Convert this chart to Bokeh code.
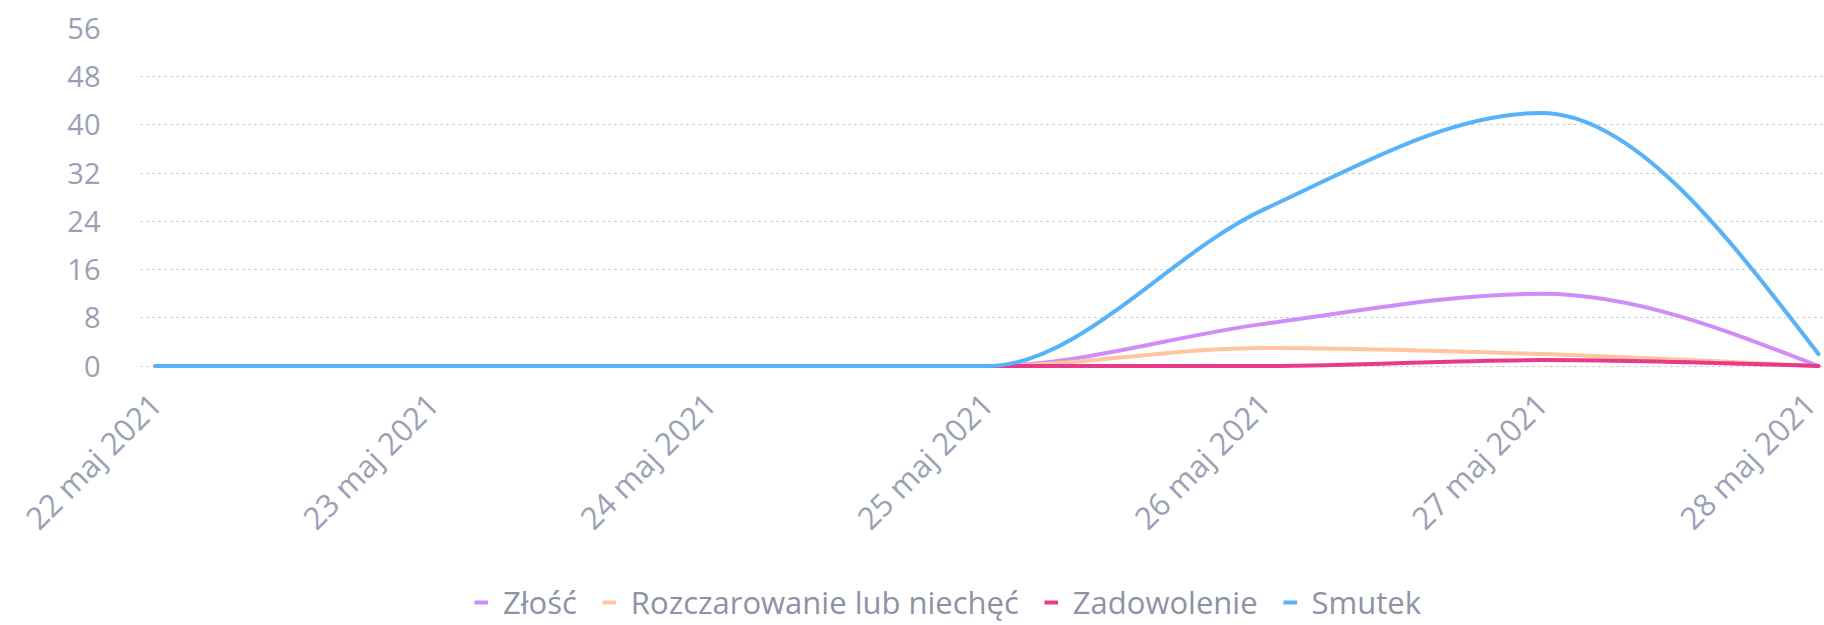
from math import pi
import numpy as np
from bokeh.plotting import figure
from bokeh.layouts import column
from bokeh.models import Range1d, FixedTicker, Legend, LegendItem, ColumnDataSource
from bokeh.embed import file_html
from bokeh.resources import INLINE

# ---- data ----
dates = ["22 maj 2021", "23 maj 2021", "24 maj 2021", "25 maj 2021",
         "26 maj 2021", "27 maj 2021", "28 maj 2021"]
zlosc = [0, 0, 0, 0, 7, 12, 0]
rozczarowanie = [0, 0, 0, 0, 3, 2, 0]
zadowolenie = [0, 0, 0, 0, 0, 1, 0]
smutek = [0, 0, 0, 0, 26, 42, 2]
series_names = ["Złość", "Rozczarowanie lub niechęć", "Zadowolenie", "Smutek"]
y_ticks = [0, 8, 16, 24, 32, 40, 48, 56]

colors = ["#cf8cfa", "#ffc4a0", "#e8398a", "#55b3fd"]
FONT = "Open Sans"
TICK_COLOR = "#9aa0b6"


def monotone_bezier(xs, ys):
    """Control points of a monotone cubic (d3 curveMonotoneX) through the data points."""
    xs = np.asarray(xs, float)
    ys = np.asarray(ys, float)
    n = len(xs)
    h = np.diff(xs)
    s = np.diff(ys) / h
    t = np.zeros(n)
    for i in range(1, n - 1):
        p = (s[i - 1] * h[i] + s[i] * h[i - 1]) / (h[i - 1] + h[i])
        sg = (-1 if s[i - 1] < 0 else 1) + (-1 if s[i] < 0 else 1)
        t[i] = sg * min(abs(s[i - 1]), abs(s[i]), 0.5 * abs(p))
    t[0] = (3 * s[0] - t[1]) / 2
    t[-1] = (3 * s[-1] - t[-2]) / 2
    return dict(
        x0=xs[:-1], y0=ys[:-1], x1=xs[1:], y1=ys[1:],
        cx0=xs[:-1] + h / 3, cy0=ys[:-1] + t[:-1] * h / 3,
        cx1=xs[1:] - h / 3, cy1=ys[1:] - t[1:] * h / 3,
    )


x_idx = list(range(len(dates)))
all_series = [zlosc, rozczarowanie, zadowolenie, smutek]

# ---- main chart ----
p = figure(width=1824, height=563, output_backend="svg", toolbar_location=None,
           x_range=Range1d(-0.054, 6.022), y_range=Range1d(-0.4, 56),
           min_border_left=140, min_border_right=0, min_border_top=28,
           min_border_bottom=195)
p.outline_line_color = None
p.background_fill_color = "white"

for name, vals, col in zip(series_names, all_series, colors):
    src = ColumnDataSource(monotone_bezier(x_idx, vals))
    p.bezier(x0="x0", y0="y0", x1="x1", y1="y1", cx0="cx0", cy0="cy0",
             cx1="cx1", cy1="cy1", source=src, line_color=col, line_width=4,
             line_cap="round")

p.yaxis.ticker = FixedTicker(ticks=y_ticks)
p.yaxis.axis_line_color = None
p.yaxis.major_tick_line_color = None
p.yaxis.minor_tick_line_color = None
p.yaxis.major_label_text_font = FONT
p.yaxis.major_label_text_font_size = "29px"
p.yaxis.major_label_text_color = TICK_COLOR
p.yaxis.major_label_standoff = 34

p.xaxis.ticker = FixedTicker(ticks=x_idx)
p.xaxis.major_label_overrides = {i: d for i, d in zip(x_idx, dates)}
p.xaxis.major_label_orientation = pi / 4
p.xaxis.axis_line_color = None
p.xaxis.major_tick_line_color = None
p.xaxis.minor_tick_line_color = None
p.xaxis.major_label_text_font = FONT
p.xaxis.major_label_text_font_size = "31px"
p.xaxis.major_label_text_color = TICK_COLOR
p.xaxis.major_label_standoff = 24

p.xgrid.grid_line_color = None
p.ygrid.grid_line_color = "#b8b8b8"
p.ygrid.grid_line_dash = "2 4"
p.ygrid.grid_line_width = 1

# ---- legend strip (its lines sit outside the visible range; only the legend shows) ----
lf = figure(width=1824, height=62, output_backend="svg", toolbar_location=None,
            x_range=Range1d(100, 101), y_range=Range1d(100, 101),
            x_axis_location=None, y_axis_location=None,
            min_border_left=0, min_border_right=0, min_border_top=0, min_border_bottom=0)
lf.outline_line_color = None
lf.xgrid.visible = False
lf.ygrid.visible = False

items = []
for name, vals, col in zip(series_names, all_series, colors):
    r = lf.line(x=x_idx, y=vals, line_color=col, line_width=4)
    items.append(LegendItem(label=name, renderers=[r]))

legend = Legend(items=items, orientation="horizontal", location=(334, 2),
                padding=0, margin=0, spacing=25, glyph_width=14, glyph_height=20,
                label_standoff=15, label_text_font=FONT, label_text_font_size="31px",
                label_text_color="#8d92a8", border_line_color=None,
                background_fill_alpha=0)
lf.add_layout(legend)

layout = column(p, lf, spacing=0)
open("out.html", "w").write(file_html(layout, INLINE))
